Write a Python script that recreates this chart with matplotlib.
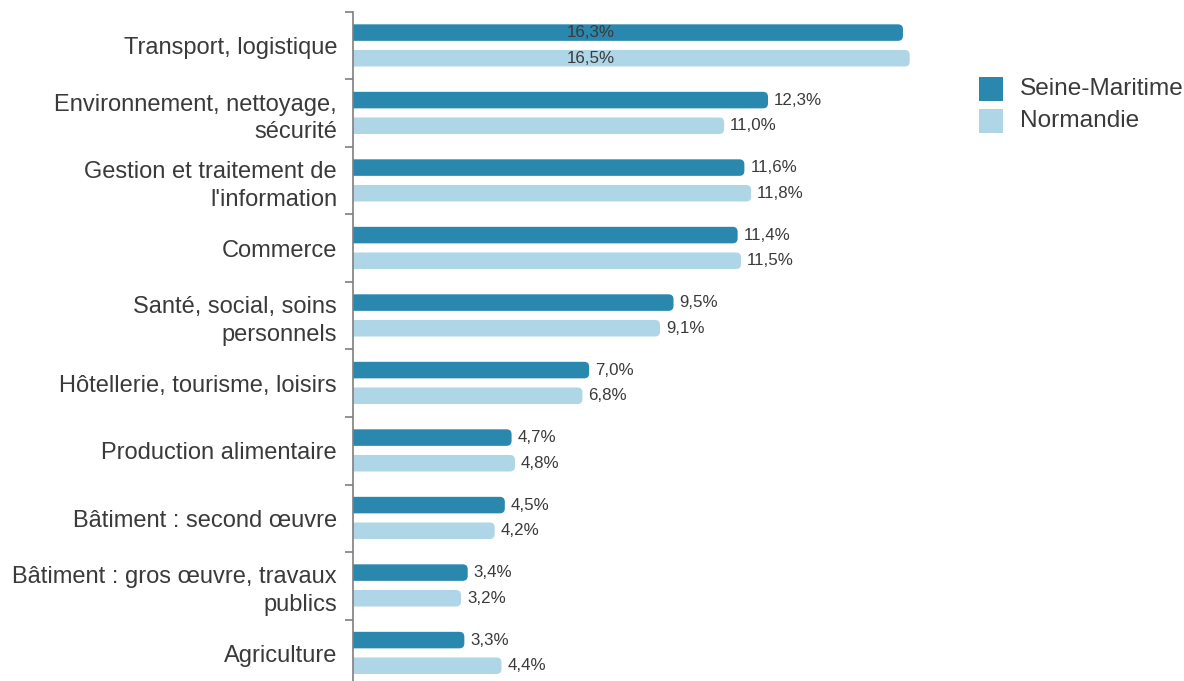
import numpy as np
import matplotlib.pyplot as plt
from matplotlib.patches import FancyBboxPatch, Rectangle

# données
categories = ["Transport, logistique",
              "Environnement, nettoyage,\nsécurité",
              "Gestion et traitement de\nl'information",
              "Commerce",
              "Santé, social, soins\npersonnels",
              "Hôtellerie, tourisme, loisirs",
              "Production alimentaire",
              "Bâtiment : second œuvre",
              "Bâtiment : gros œuvre, travaux\npublics",
              "Agriculture"]
seine_maritime = [16.3, 12.3, 11.6, 11.4, 9.5, 7.0, 4.7, 4.5, 3.4, 3.3]
normandie = [16.5, 11.0, 11.8, 11.5, 9.1, 6.8, 4.8, 4.2, 3.2, 4.4]
series_names = ["Seine-Maritime", "Normandie"]

col_dark = "#2a87ae"
col_light = "#afd6e6"
txt_col = "#3a3a3a"

plt.rcParams['font.family'] = ['Liberation Sans', 'DejaVu Sans']

W, H = 1184, 681
fig = plt.figure(figsize=(W / 100, H / 100), dpi=100)
ax_left, ax_right, ax_top, ax_bot = 353, 940, 12, 687
ax = fig.add_axes([ax_left / W, (H - ax_bot) / H,
                   (ax_right - ax_left) / W, (ax_bot - ax_top) / H])

px_per_x = 33.74
xmax = (ax_right - ax_left) / px_per_x
px_per_y = (ax_bot - ax_top) / len(categories)
ax.set_xlim(0, xmax)
ax.set_ylim(len(categories) - 0.5, -0.5)

bar_h = 0.245
offsets = [-0.195, 0.185]
radius = 5 / px_per_x
aspect = px_per_x / px_per_y

for serie, off, col in zip([seine_maritime, normandie], offsets, [col_dark, col_light]):
    for i, v in enumerate(serie):
        y0 = i + off - bar_h / 2
        p = FancyBboxPatch((-0.5, y0), v + 0.5, bar_h,
                           boxstyle="round,pad=0,rounding_size=%f" % radius,
                           mutation_aspect=aspect, fc=col, ec="none")
        ax.add_patch(p)
        lab = ("%.1f%%" % v).replace(".", ",")
        if v > 15:
            # étiquette dans la barre
            ax.text(7.05, i + off, lab, ha="center", va="center",
                    fontsize=12.2, color=txt_col)
        else:
            ax.annotate(lab, (v, i + off), xytext=(4.3, 0), textcoords="offset points",
                        ha="left", va="center", fontsize=12.2, color=txt_col)

# axes
for s in ["top", "right", "bottom"]:
    ax.spines[s].set_visible(False)
ax.spines["left"].set_color("#7f7f7f")
ax.spines["left"].set_linewidth(1.2)
ax.set_xticks([])
ax.set_yticks(np.arange(-0.5, len(categories) + 0.5, 1))
ax.set_yticklabels([])
ax.tick_params(axis="y", which="major", length=5.8, color="#7f7f7f", width=1.2)
ax.set_yticks(np.arange(len(categories)), minor=True)
ax.set_yticklabels(categories, minor=True, fontsize=17, color=txt_col,
                   linespacing=1.32)
ax.tick_params(axis="y", which="minor", length=0, pad=11.5)

# légende
leg_cols = [col_dark, col_light]
leg_y = [89, 121]
for name, c, yc in zip(series_names, leg_cols, leg_y):
    fig.patches.append(Rectangle((979 / W, (H - yc - 12) / H), 24 / W, 24 / H,
                                 fc=c, ec="none", transform=fig.transFigure, figure=fig))
    fig.text(1020 / W, (H - yc) / H, name, ha="left", va="center",
             fontsize=17.6, color=txt_col)

fig.savefig("out.png", dpi=100)
